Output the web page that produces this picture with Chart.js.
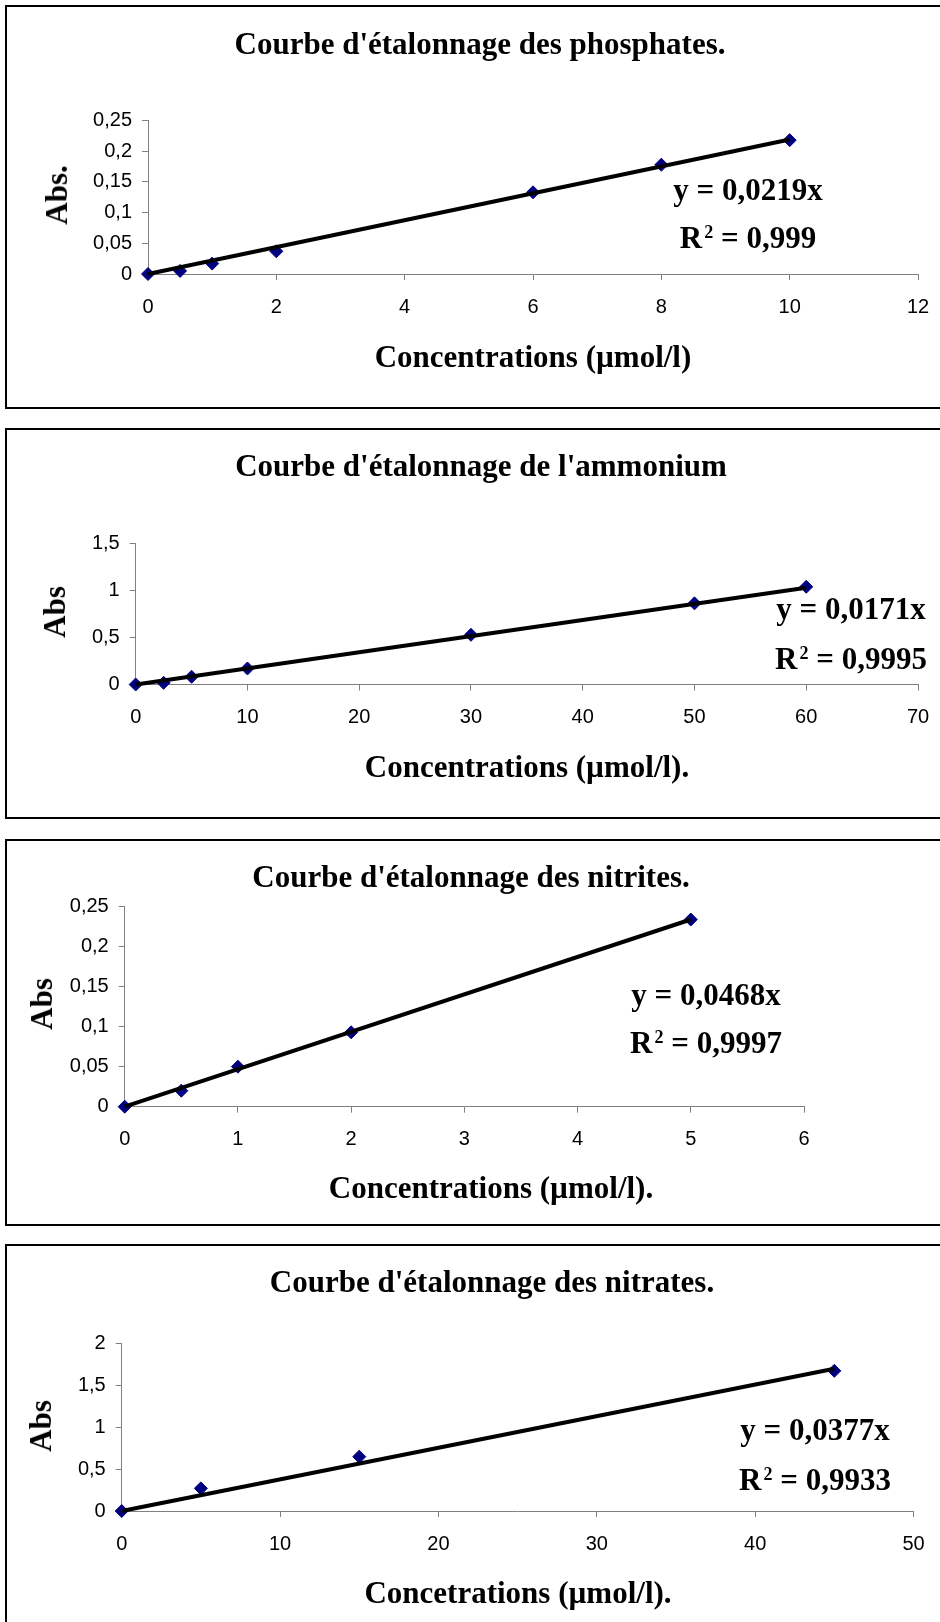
<!DOCTYPE html>
<html lang="fr">
<head>
<meta charset="utf-8">
<title>Courbes d'étalonnage</title>
<script src="https://cdn.jsdelivr.net/npm/chart.js@4.4.1/dist/chart.umd.min.js"></script>
<style>
  html, body { margin:0; padding:0; background:#fff; }
  body { position:relative; width:940px; height:1622px; overflow:hidden; }
  .panel { position:absolute; left:5px; width:1000px; border:2px solid #000; box-sizing:border-box; }
  canvas { position:absolute; }
  .t { position:absolute; font-family:"Liberation Serif","Times New Roman",serif; font-weight:bold;
       font-size:31px; line-height:30px; white-space:nowrap; transform:translateX(-50%); color:#000; }
  .abs { transform:translate(-50%,-50%) rotate(-90deg); }
  .sup { font-size:18px; position:relative; top:-10px; margin-left:2px; }
</style>
</head>
<body>

<div class="panel" style="top:5px;height:404px"></div>
<div class="panel" style="top:428px;height:391px"></div>
<div class="panel" style="top:839px;height:387px"></div>
<div class="panel" style="top:1244px;height:500px"></div>

<canvas id="c1" width="933" height="400" style="left:7px;top:7px"></canvas>
<canvas id="c2" width="933" height="387" style="left:7px;top:430px"></canvas>
<canvas id="c3" width="933" height="383" style="left:7px;top:841px"></canvas>
<canvas id="c4" width="933" height="376" style="left:7px;top:1246px"></canvas>

<!-- phosphates -->
<div class="t" style="left:480px;top:29px">Courbe d'étalonnage des phosphates.</div>
<div class="t" style="left:748px;top:175px">y = 0,0219x</div>
<div class="t" style="left:748px;top:223px">R<span class="sup">2</span> = 0,999</div>
<div class="t" style="left:533px;top:342px">Concentrations (µmol/l)</div>
<div class="t abs" style="left:57px;top:195px">Abs.</div>

<!-- ammonium -->
<div class="t" style="left:481px;top:451px">Courbe d'étalonnage de l'ammonium</div>
<div class="t" style="left:851px;top:594px">y = 0,0171x</div>
<div class="t" style="left:851px;top:644px">R<span class="sup">2</span> = 0,9995</div>
<div class="t" style="left:527px;top:752px">Concentrations (µmol/l).</div>
<div class="t abs" style="left:55px;top:612px">Abs</div>

<!-- nitrites -->
<div class="t" style="left:471px;top:862px">Courbe d'étalonnage des nitrites.</div>
<div class="t" style="left:706px;top:980px">y = 0,0468x</div>
<div class="t" style="left:706px;top:1028px">R<span class="sup">2</span> = 0,9997</div>
<div class="t" style="left:491px;top:1173px">Concentrations (µmol/l).</div>
<div class="t abs" style="left:42px;top:1004px">Abs</div>

<!-- nitrates -->
<div class="t" style="left:492px;top:1267px">Courbe d'étalonnage des nitrates.</div>
<div class="t" style="left:815px;top:1415px">y = 0,0377x</div>
<div class="t" style="left:815px;top:1465px">R<span class="sup">2</span> = 0,9933</div>
<div class="t" style="left:518px;top:1578px">Concetrations (µmol/l).</div>
<div class="t abs" style="left:41px;top:1426px">Abs</div>

<script>
// phosphates
var phosX = [0, 0.5, 1, 2, 6, 8, 10];
var phosY = [0, 0.005, 0.017, 0.037, 0.133, 0.178, 0.218];
var phosSlope = 0.0219;
var phosXTicks = [0, 2, 4, 6, 8, 10, 12];
var phosYTicks = [0, 0.05, 0.1, 0.15, 0.2, 0.25];

// ammonium
var ammX = [0, 2.5, 5, 10, 30, 50, 60];
var ammY = [0, 0.018, 0.082, 0.17, 0.527, 0.86, 1.036];
var ammSlope = 0.0171;
var ammXTicks = [0, 10, 20, 30, 40, 50, 60, 70];
var ammYTicks = [0, 0.5, 1, 1.5];

// nitrites
var nitriX = [0, 0.5, 1, 2, 5];
var nitriY = [0, 0.02, 0.05, 0.093, 0.234];
var nitriSlope = 0.0468;
var nitriXTicks = [0, 1, 2, 3, 4, 5, 6];
var nitriYTicks = [0, 0.05, 0.1, 0.15, 0.2, 0.25];

// nitrates
var nitraX = [0, 5, 15, 45];
var nitraY = [0, 0.27, 0.648, 1.672];
var nitraSlope = 0.0377;
var nitraXTicks = [0, 10, 20, 30, 40, 50];
var nitraYTicks = [0, 0.5, 1, 1.5, 2];

Chart.defaults.font.family = '"Liberation Sans", Arial, sans-serif';
Chart.defaults.color = '#000';

function fmt(v) {
  return String(+v.toFixed(3)).replace('.', ',');
}

// canvas box and wanted plot area, both in page pixels
function calib(id, box, area, xs, ys, slope, xTicks, yTicks) {
  var yW = 70, xH = 60;
  var pts = xs.map(function (x, i) { return {x: x, y: ys[i]}; });
  var last = xs[xs.length - 1];
  var trend = [{x: xs[0], y: slope * xs[0]}, {x: last, y: slope * last}];
  var axisGrid = {drawOnChartArea: false, tickLength: 6, color: '#808080'};

  new Chart(document.getElementById(id), {
    type: 'scatter',
    data: {
      datasets: [
        {data: trend, showLine: true, borderColor: '#000', borderWidth: 4,
         pointRadius: 0, order: 0, clip: false},
        {data: pts, pointStyle: 'rectRot', pointRadius: 6.5, pointBorderWidth: 1,
         pointBackgroundColor: '#000080', pointBorderColor: '#000080', order: 1, clip: false}
      ]
    },
    options: {
      responsive: false,
      animation: false,
      layout: {
        padding: {
          left: area.l - box.x - yW,
          top: area.t - box.y,
          right: box.x + box.w - area.r,
          bottom: box.y + box.h - area.b - xH
        }
      },
      plugins: {legend: {display: false}, tooltip: {enabled: false}},
      scales: {
        x: {
          type: 'linear',
          min: xTicks[0], max: xTicks[xTicks.length - 1],
          afterBuildTicks: function (s) { s.ticks = xTicks.map(function (v) { return {value: v}; }); },
          afterFit: function (s) { s.height = xH; s.paddingLeft = 0; s.paddingRight = 0; },
          grid: axisGrid,
          border: {color: '#808080', width: 1},
          ticks: {padding: 15, autoSkip: false, maxRotation: 0, font: {size: 20},
                  callback: function (v) { return fmt(v); }}
        },
        y: {
          type: 'linear',
          min: yTicks[0], max: yTicks[yTicks.length - 1],
          afterBuildTicks: function (s) { s.ticks = yTicks.map(function (v) { return {value: v}; }); },
          afterFit: function (s) { s.width = yW; s.paddingTop = 0; s.paddingBottom = 0; },
          grid: axisGrid,
          border: {color: '#808080', width: 1},
          ticks: {padding: 10, autoSkip: false, font: {size: 20},
                  callback: function (v) { return fmt(v); }}
        }
      }
    }
  });
}

calib('c1', {x: 7, y: 7, w: 933, h: 400}, {l: 148, r: 918, t: 120.5, b: 274},
      phosX, phosY, phosSlope, phosXTicks, phosYTicks);
calib('c2', {x: 7, y: 430, w: 933, h: 387}, {l: 135.7, r: 918, t: 543, b: 684.5},
      ammX, ammY, ammSlope, ammXTicks, ammYTicks);
calib('c3', {x: 7, y: 841, w: 933, h: 383}, {l: 124.7, r: 804, t: 906.7, b: 1106.7},
      nitriX, nitriY, nitriSlope, nitriXTicks, nitriYTicks);
calib('c4', {x: 7, y: 1246, w: 933, h: 376}, {l: 121.7, r: 913.5, t: 1343.3, b: 1511},
      nitraX, nitraY, nitraSlope, nitraXTicks, nitraYTicks);
</script>
</body>
</html>
